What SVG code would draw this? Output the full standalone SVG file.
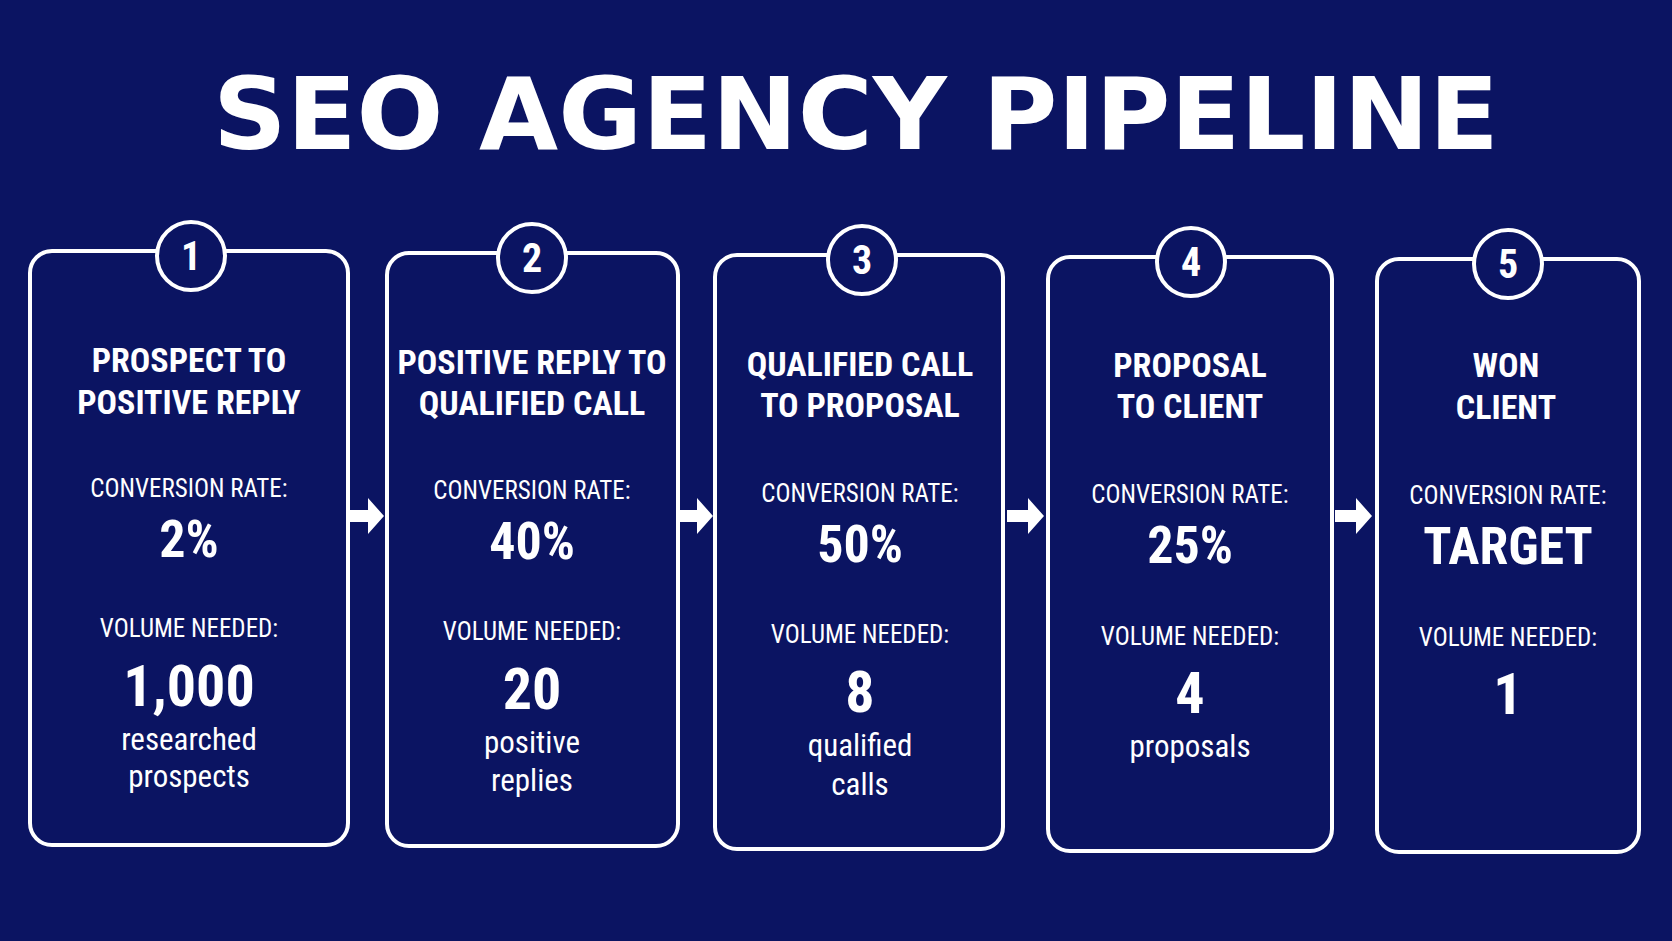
<svg xmlns="http://www.w3.org/2000/svg" width="1672" height="941" viewBox="0 0 1672 941">
<style>
.box{fill:none;stroke:#fff;stroke-width:4}
.circ{fill:#0b1462;stroke:#fff;stroke-width:4}
text{fill:#fff;font-family:"Roboto Condensed","Liberation Sans Narrow","Liberation Sans",sans-serif;text-anchor:middle}
.num{font-size:40px;font-weight:bold}
.h{font-size:34px;font-weight:bold}
.lab{font-size:25px}
.val{font-size:52px;font-weight:bold}
.big{font-size:58px;font-weight:bold}
.sub{font-size:31px}
.arr{fill:#fff}
</style>
<rect width="1672" height="941" fill="#0b1462"/>
<text x="856" y="149" style="font-family:'DejaVu Sans',sans-serif" font-size="100" font-weight="bold" textLength="1286" lengthAdjust="spacingAndGlyphs">SEO AGENCY PIPELINE</text>
<g id="connectors">
<path class="arr" d="M350 510h18v-12l16 18-16 18v-12h-18z"/>
<path class="arr" d="M680 510h17v-12l16 18-16 18v-12h-17z"/>
<path class="arr" d="M1007 510h21v-12l16 18-16 18v-12h-21z"/>
<path class="arr" d="M1335 510h21v-12l16 18-16 18v-12h-21z"/>
</g>
<g id="node1">
<rect class="box" x="30" y="251" width="318" height="594" rx="22"/>
<circle class="circ" cx="191" cy="256" r="34"/><text class="num" x="191" y="270">1</text>
<text class="h" x="189" y="372">PROSPECT TO</text><text class="h" x="189" y="414">POSITIVE REPLY</text>
<text class="lab" x="189" y="497">CONVERSION RATE:</text>
<text class="val" x="189" y="557">2%</text>
<text class="lab" x="189" y="637">VOLUME NEEDED:</text>
<text class="big" x="189" y="706">1,000</text>
<text class="sub" x="189" y="750">researched</text><text class="sub" x="189" y="787">prospects</text>
</g>
<g id="node2">
<rect class="box" x="387" y="253" width="291" height="593" rx="22"/>
<circle class="circ" cx="532" cy="258" r="34"/><text class="num" x="532" y="272">2</text>
<text class="h" x="532" y="374">POSITIVE REPLY TO</text><text class="h" x="532" y="415">QUALIFIED CALL</text>
<text class="lab" x="532" y="499">CONVERSION RATE:</text>
<text class="val" x="532" y="559">40%</text>
<text class="lab" x="532" y="640">VOLUME NEEDED:</text>
<text class="big" x="532" y="709">20</text>
<text class="sub" x="532" y="753">positive</text><text class="sub" x="532" y="791">replies</text>
</g>
<g id="node3">
<rect class="box" x="715" y="255" width="288" height="594" rx="22"/>
<circle class="circ" cx="862" cy="260" r="34"/><text class="num" x="862" y="274">3</text>
<text class="h" x="860" y="376">QUALIFIED CALL</text><text class="h" x="860" y="417">TO PROPOSAL</text>
<text class="lab" x="860" y="502">CONVERSION RATE:</text>
<text class="val" x="860" y="562">50%</text>
<text class="lab" x="860" y="643">VOLUME NEEDED:</text>
<text class="big" x="860" y="712">8</text>
<text class="sub" x="860" y="756">qualified</text><text class="sub" x="860" y="795">calls</text>
</g>
<g id="node4">
<rect class="box" x="1048" y="257" width="284" height="594" rx="22"/>
<circle class="circ" cx="1191" cy="262" r="34"/><text class="num" x="1191" y="276">4</text>
<text class="h" x="1190" y="377">PROPOSAL</text><text class="h" x="1190" y="418">TO CLIENT</text>
<text class="lab" x="1190" y="503">CONVERSION RATE:</text>
<text class="val" x="1190" y="563">25%</text>
<text class="lab" x="1190" y="645">VOLUME NEEDED:</text>
<text class="big" x="1190" y="713">4</text>
<text class="sub" x="1190" y="757">proposals</text>
</g>
<g id="node5">
<rect class="box" x="1377" y="259" width="262" height="593" rx="22"/>
<circle class="circ" cx="1508" cy="264" r="34"/><text class="num" x="1508" y="278">5</text>
<text class="h" x="1506" y="377">WON</text><text class="h" x="1506" y="419">CLIENT</text>
<text class="lab" x="1508" y="504">CONVERSION RATE:</text>
<text class="val" x="1508" y="564">TARGET</text>
<text class="lab" x="1508" y="646">VOLUME NEEDED:</text>
<text class="big" x="1508" y="714">1</text>
</g>
</svg>
